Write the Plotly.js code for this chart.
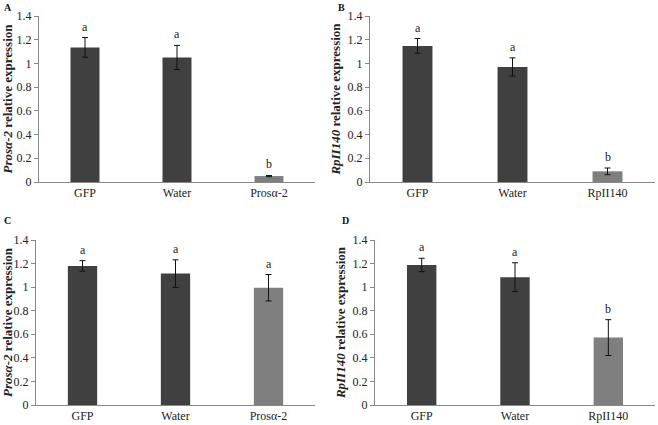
<!DOCTYPE html>
<html>
<head>
<meta charset="utf-8">
<script src="https://cdn.plot.ly/plotly-3.0.1.min.js"></script>
<style>
  body { margin: 0; background: #fff; }
  #plot { width: 658px; height: 425px; }
</style>
</head>
<body>
<div id="plot"></div>
<script>
// categories for each panel
var catsProsa = ["GFP", "Water", "Prosα-2"];
var catsRpl = ["GFP", "Water", "RpII140"];

// panel A: Prosα-2
var aVals = [1.135, 1.05, 0.05];
var aErr = [0.083, 0.102, 0.005];
var aLetters = ["a", "a", "b"];

// panel B: RpII140
var bVals = [1.148, 0.97, 0.09];
var bErr = [0.062, 0.077, 0.028];
var bLetters = ["a", "a", "b"];

// panel C: Prosα-2
var cVals = [1.18, 1.115, 0.995];
var cErr = [0.045, 0.117, 0.112];
var cLetters = ["a", "a", "a"];

// panel D: RpII140
var dVals = [1.188, 1.085, 0.572];
var dErr = [0.057, 0.122, 0.152];
var dLetters = ["a", "a", "b"];

var barColors = ["#404040", "#404040", "#7f7f7f"];

var panels = [
  {cats: catsProsa, vals: aVals, err: aErr, letters: aLetters, x: "x", y: "y", label: "A", gene: "Prosα-2"},
  {cats: catsRpl, vals: bVals, err: bErr, letters: bLetters, x: "x2", y: "y2", label: "B", gene: "RpII140"},
  {cats: catsProsa, vals: cVals, err: cErr, letters: cLetters, x: "x3", y: "y3", label: "C", gene: "Prosα-2"},
  {cats: catsRpl, vals: dVals, err: dErr, letters: dLetters, x: "x4", y: "y4", label: "D", gene: "RpII140"}
];

var W = 658, H = 425;
var xDom = [[39 / W, 315 / W], [370 / W, 655 / W], [36 / W, 315 / W], [375 / W, 655 / W]];
var yDom = [[243 / H, 409 / H], [243 / H, 409 / H], [20 / H, 185 / H], [20 / H, 185 / H]];
var titleX = [2, 336, 2, 340];

var font = "Liberation Serif, DejaVu Serif, serif";

var traces = [];
var annotations = [];
var layout = {
  width: W,
  height: H,
  margin: {l: 0, r: 0, t: 0, b: 0},
  paper_bgcolor: "#ffffff",
  plot_bgcolor: "#ffffff",
  showlegend: false,
  bargap: 0.685,
  font: {family: font, size: 12, color: "#222"}
};

panels.forEach(function(p, i) {
  traces.push({
    type: "bar",
    x: p.cats,
    y: p.vals,
    xaxis: p.x,
    yaxis: p.y,
    marker: {color: barColors},
    error_y: {type: "data", array: p.err, visible: true, color: "#111", thickness: 1, width: 3}
  });

  var xk = "xaxis" + (i === 0 ? "" : i + 1);
  var yk = "yaxis" + (i === 0 ? "" : i + 1);
  layout[xk] = {
    domain: xDom[i],
    anchor: p.y,
    showline: true,
    linecolor: "#888",
    linewidth: 1,
    ticks: "",
    showgrid: false,
    tickfont: {family: font, size: 12, color: "#222"},
    fixedrange: true
  };
  layout[yk] = {
    domain: yDom[i],
    anchor: p.x,
    range: [0, 1.4],
    dtick: 0.2,
    showline: true,
    linecolor: "#888",
    ticks: "outside",
    ticklen: 4,
    tickcolor: "#888",
    showgrid: false,
    zeroline: false,
    tickfont: {family: font, size: 12, color: "#222"},
    title: {
      text: "<b><i>" + p.gene + "</i> relative expression</b>",
      font: {family: font, size: 13, color: "#222"},
      standoff: 4
    },
    fixedrange: true
  };

  // significance letters above each bar
  p.cats.forEach(function(c, j) {
    annotations.push({
      xref: p.x,
      yref: p.y,
      x: c,
      y: p.vals[j] + p.err[j],
      text: p.letters[j],
      showarrow: false,
      yanchor: "bottom",
      yshift: 2,
      font: {family: font, size: 12, color: "#222"}
    });
  });

  // panel letter
  annotations.push({
    xref: "paper",
    yref: "paper",
    x: titleX[i] / W,
    y: (i < 2 ? 425 - 0 : 425 - 213) / H,
    xanchor: "left",
    yanchor: "top",
    text: "<b>" + p.label + "</b>",
    showarrow: false,
    font: {family: font, size: 10, color: "#111"}
  });
});

layout.annotations = annotations;

Plotly.newPlot("plot", traces, layout, {displayModeBar: false, staticPlot: true});
</script>
</body>
</html>
